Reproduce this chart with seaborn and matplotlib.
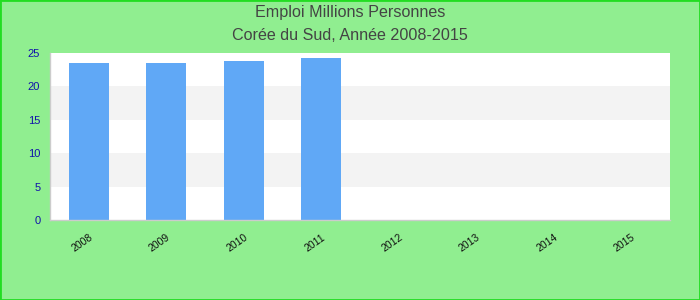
import matplotlib
matplotlib.use("Agg")
import matplotlib.pyplot as plt
import seaborn as sns
import numpy as np
import pandas as pd

years = ["2008", "2009", "2010", "2011", "2012", "2013", "2014", "2015"]
emploi = [23.5, 23.5, 23.8, 24.2, np.nan, np.nan, np.nan, np.nan]
y_ticks = [0, 5, 10, 15, 20, 25]

sns.set_theme(style="white")
plt.rcParams['font.family'] = ['Liberation Sans', 'DejaVu Sans']

fig = plt.figure(figsize=(7, 3), dpi=100, facecolor="#90ee90")
fig.patches.append(plt.Rectangle((0, 0), 1, 1, transform=fig.transFigure,
                                 fill=False, edgecolor="#22dd22", linewidth=2))
ax = fig.add_axes([50/700, 80/300, 620/700, 167/300])
ax.set_facecolor("white")

for lo, hi in [(5, 10), (15, 20)]:
    ax.axhspan(lo, hi, color="#f3f3f3", zorder=0, linewidth=0)

df = pd.DataFrame({"year": years, "emploi": emploi})
sns.barplot(data=df, x="year", y="emploi", order=years, color="#60a8f6",
            saturation=1, width=0.52, ax=ax, zorder=2, linewidth=0)

ax.set_xlim(-0.5, len(years) - 0.5)
ax.set_ylim(0, 25)
ax.set_yticks(y_ticks)
ax.set_yticklabels([str(t) for t in y_ticks], color="#1111aa", fontsize=8)
ax.set_xticks(range(len(years)))
ax.set_xticklabels(years, rotation=35, ha="right", rotation_mode="anchor",
                   fontsize=7.5, color="#111111")
ax.tick_params(axis="y", length=0, pad=7)
ax.tick_params(axis="x", length=0, pad=9)
ax.set_xlabel("")
ax.set_ylabel("")
for s in ["top", "right"]:
    ax.spines[s].set_visible(False)
for s in ["left", "bottom"]:
    ax.spines[s].set_color("#cccccc")
    ax.spines[s].set_linewidth(1)

fig.text(0.5, 1 - 12/300, "Emploi Millions Personnes", ha="center", va="center",
         fontsize=11.6, color="#444444")
fig.text(0.5, 1 - 35/300, "Corée du Sud, Année 2008-2015", ha="center", va="center",
         fontsize=11.6, color="#444444")

fig.savefig("out.png", dpi=100, facecolor=fig.get_facecolor())
